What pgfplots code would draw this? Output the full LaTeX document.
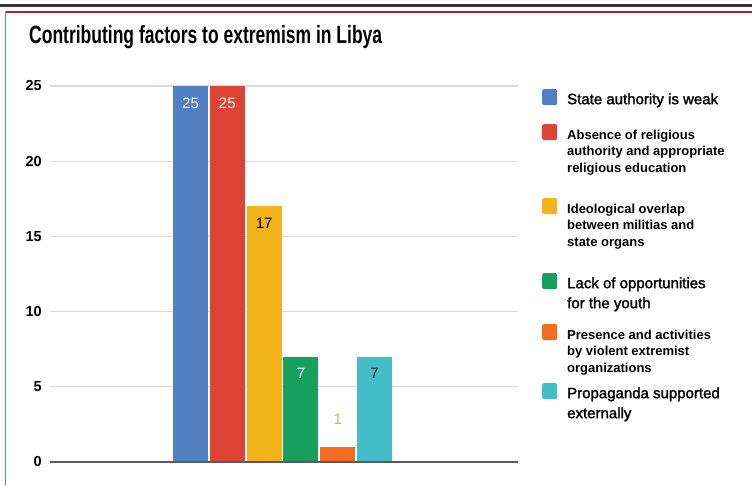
\documentclass[border=0pt]{standalone}
\usepackage{fontspec}
\setmainfont{Liberation Sans}
\newfontfamily\titlefont[FakeStretch=0.7]{Liberation Sans}
\newfontfamily\legAfont[FakeBold=1.6]{Liberation Sans}
\usepackage{pgfplots}
\pgfplotsset{compat=1.18}
\definecolor{cBlue}{HTML}{5080C1}
\definecolor{cRed}{HTML}{DD4436}
\definecolor{cYellow}{HTML}{F2B31B}
\definecolor{cGreen}{HTML}{17A05D}
\definecolor{cOrange}{HTML}{F26C21}
\definecolor{cTeal}{HTML}{43BEC8}
\definecolor{cGrid}{HTML}{DADADA}
\definecolor{cZero}{HTML}{5A5A5A}
\definecolor{cTop}{HTML}{333333}
\definecolor{cTopRed}{HTML}{B01F2E}
\definecolor{cSide}{HTML}{3A9CC0}
\definecolor{cLabOrange}{HTML}{F5A064}
\newcommand\LegA[2]{\smash{\parbox[t]{180pt}{\legAfont\fontsize{15pt}{20pt}\selectfont #2}}\rule[-#1pt]{0pt}{#1pt}}
\newcommand\LegB[2]{\smash{\parbox[t]{180pt}{\bfseries\fontsize{13pt}{16.5pt}\selectfont #2}}\rule[-#1pt]{0pt}{#1pt}}
\pgfplotsset{mybar/.style={ybar, bar width=35pt, bar shift=0pt, draw=none, fill=#1,
  legend image code/.code={\fill[#1, rounded corners=1.5pt] (0pt,-1pt) rectangle (15pt,15pt);}}}
\begin{document}
\begin{tikzpicture}[x=1pt,y=1pt]
\useasboundingbox (0,0) rectangle (752,485);
\fill[white] (0,0) rectangle (752,485);
\fill[cTop] (0,478) rectangle (752,480.5);
\fill[cTopRed] (5,472) rectangle (752,474.2);
\fill[cSide] (4.5,0) rectangle (6,474);
\node[anchor=base west, inner sep=0pt, font=\titlefont\bfseries\fontsize{25pt}{30pt}\selectfont] at (29,441.7) {Contributing factors to extremism in Libya};
\begin{axis}[
  at={(50pt,23pt)}, anchor=south west,
  scale only axis, width=468pt, height=376pt,
  xmin=-3.82, xmax=8.90, ymin=0, ymax=25,
  ytick={0,5,10,15,20,25}, xtick=\empty,
  axis line style={draw=none}, major tick length=0pt,
  ymajorgrids, grid style={cGrid, line width=1.3pt},
  yticklabel style={font=\bfseries\fontsize{14.5pt}{17pt}\selectfont, inner sep=0pt, anchor=east, xshift=-8pt},
  /pgf/number format/assume math mode=true,
  clip=false,
  nodes near coords,
  every node near coord/.append style={font=\fontsize{15pt}{18pt}\selectfont, anchor=center},
  legend style={at={(1.0513,0.992)}, anchor=north west, draw=none, fill=none, inner sep=0pt, row sep=0pt,
    nodes={inner sep=0pt, text depth=, text height=, anchor=base west},
    /tikz/every odd column/.append style={column sep=10pt}},
  legend cell align=left,
]
\addplot[mybar=cBlue, every node near coord/.append style={text=white, yshift=-17pt}] coordinates {(0,25)};
\addlegendentry{\LegA{20}{State authority is weak}}
\addplot[mybar=cRed, every node near coord/.append style={text=white, yshift=-17pt}] coordinates {(1,25)};
\addlegendentry{\LegB{59}{Absence of religious\\authority and appropriate\\religious education}}
\addplot[mybar=cYellow, every node near coord/.append style={text=black, yshift=-17pt}] coordinates {(2,17)};
\addlegendentry{\LegB{60}{Ideological overlap\\between militias and\\state organs}}
\addplot[mybar=cGreen, every node near coord/.append style={text=white, yshift=-17pt}] coordinates {(3,7)};
\addlegendentry{\LegA{36}{Lack of opportunities\\for the youth}}
\addplot[mybar=cOrange, every node near coord/.append style={text=cLabOrange, yshift=28pt}] coordinates {(4,1)};
\addlegendentry{\LegB{44}{Presence and activities\\by violent extremist\\organizations}}
\addplot[mybar=cTeal, every node near coord/.append style={text=black!85, yshift=-17pt}] coordinates {(5,7)};
\addlegendentry{\LegA{0}{Propaganda supported\\externally}}
\draw[cZero, line width=1.6pt] (axis cs:-3.82,0) -- (axis cs:8.90,0);
\end{axis}
\end{tikzpicture}
\end{document}
